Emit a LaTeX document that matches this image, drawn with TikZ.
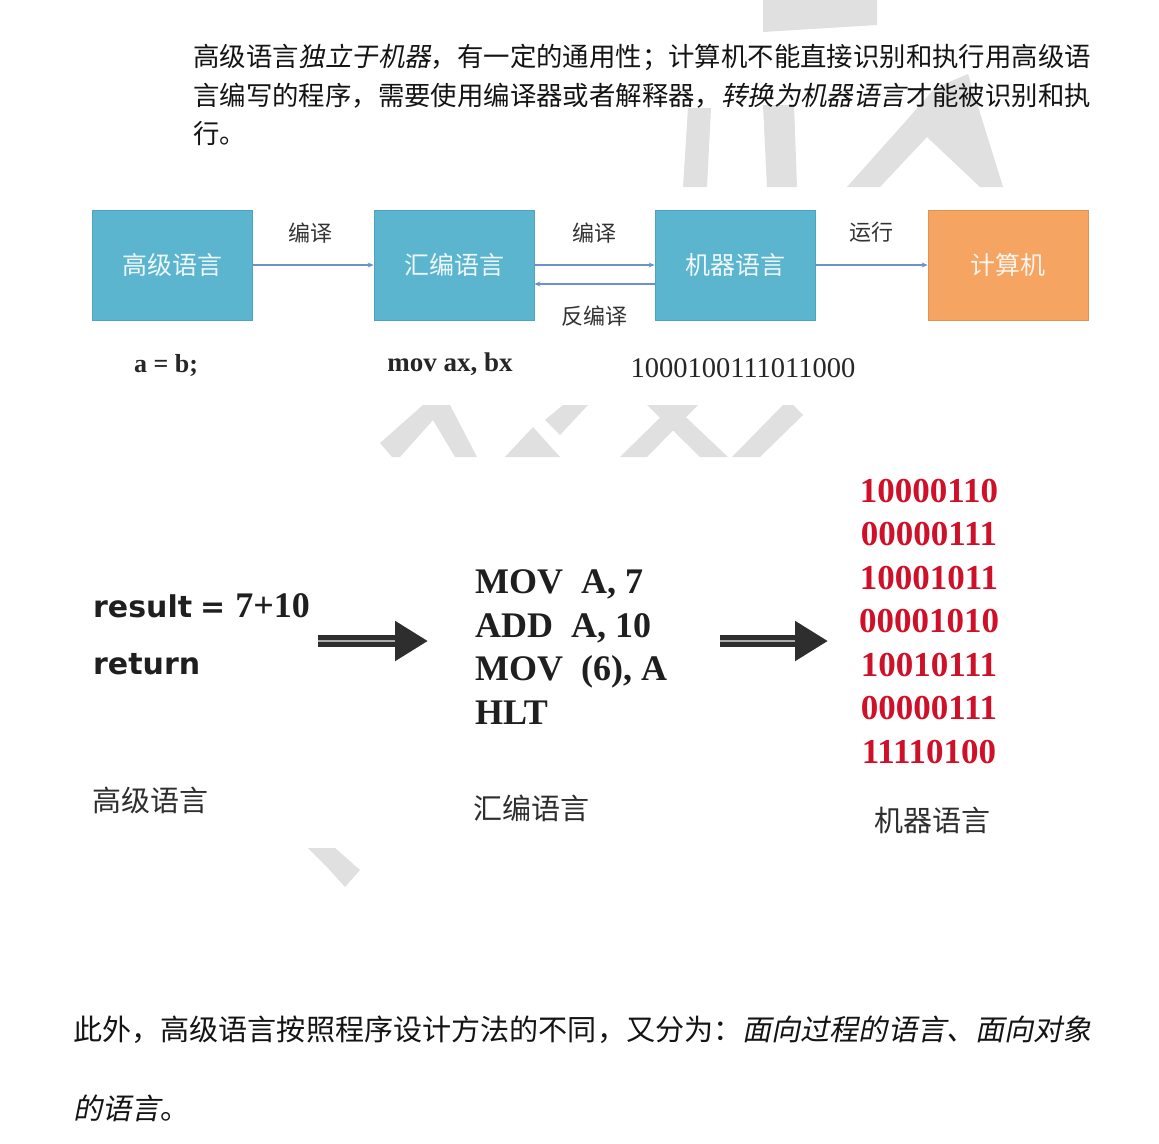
\documentclass[tikz,border=0pt]{standalone}
\usepackage{fontspec}
\usepackage{graphicx}
\usetikzlibrary{arrows.meta}
\setmainfont{Liberation Serif}
\newfontfamily\cjk{Noto Sans CJK SC}
\newfontfamily\cjkit{Noto Sans CJK SC}[FakeSlant=0.2]
\newfontfamily\dvsans{DejaVu Sans}
\definecolor{boxblue}{RGB}{91,181,206}
\definecolor{boxblueedge}{RGB}{78,163,190}
\definecolor{boxorange}{RGB}{245,164,98}
\definecolor{boxorangeedge}{RGB}{225,145,85}
\definecolor{flowblue}{RGB}{108,146,204}
\definecolor{wm}{RGB}{224,224,224}
\definecolor{binred}{RGB}{206,16,40}
\tikzset{
  langbox/.style={draw=boxblueedge, line width=0.8pt, fill=boxblue, minimum width=160pt, minimum height=110pt, inner sep=0pt, text=white!90!boxblue, font=\cjk\fontsize{25}{25}\selectfont},
  pcbox/.style={langbox, draw=boxorangeedge, fill=boxorange, text=white!88!boxorange},
  flow/.style={flowblue, line width=1.3pt, -{Stealth[length=6pt,width=5pt]}},
  flowlbl/.style={font=\cjk\fontsize{22}{22}\selectfont, text=black!80, inner sep=0pt},
  para/.style={anchor=west, inner sep=0pt, font=\cjk\fontsize{26.4}{30}\selectfont, text=black!92},
  parab/.style={para, font=\cjk\fontsize{29.1}{34}\selectfont},
  codelbl/.style={inner sep=0pt, text=black!85},
  asm/.style={anchor=base west, inner sep=0pt, font=\bfseries\fontsize{36}{36}\selectfont, text=black!88},
  bin/.style={anchor=base, inner sep=0pt, font=\bfseries\fontsize{35}{35}\selectfont, text=binred},
  biglbl/.style={inner sep=0pt, font=\cjk\fontsize{29}{29}\selectfont, text=black!82},
  fatarrow/.style={line width=12pt, black!82, -{Triangle[length=33pt,width=38pt]}},
  wmark/.style={fill=wm, draw=none}
}
\begin{document}
\begin{tikzpicture}[x=1pt,y=-1pt]
\useasboundingbox (0,0) rectangle (1159,1143);
\fill[white] (0,0) rectangle (1159,1143);
% watermark fragments
\fill[wmark] (763,0)--(877,0)--(877,25)--(763,32)--cycle;
\fill[wmark] (688,108)--(711,108)--(707,187)--(683,187)--cycle;
\fill[wmark] (763,105)--(794,105)--(797,187)--(767,187)--cycle;
\fill[wmark] (847,187)--(905,122)--(935,88)--(968,74)--(1003,187)--(980,187)--(927,137)--(880,187)--cycle;
\fill[wmark] (380,443)--(423,405)--(450,405)--(477,457)--(455,457)--(433,420)--(400,457)--(392,457)--cycle;
\fill[wmark] (545,420)--(563,405)--(588,405)--(560,435)--cycle;
\fill[wmark] (505,457)--(533,427)--(560,457)--cycle;
\fill[wmark] (647,405)--(673,405)--(728,457)--(700,457)--cycle;
\fill[wmark] (673,405)--(698,405)--(647,457)--(620,457)--cycle;
\fill[wmark] (732,457)--(783,405)--(793,405)--(803,415)--(760,457)--cycle;
\fill[wmark] (308,848)--(335,848)--(360,870)--(345,887)--(327,867)--cycle;

% top paragraph
\node[para] (p1) at (193,57) {高级语言{\cjkit 独立于机器}，有一定的通用性；计算机不能直接识别和执行用高级语};
\node[para] (p2) at (193,96) {言编写的程序，需要使用编译器或者解释器，{\cjkit 转换为机器语言}才能被识别和执};
\node[para] (p3) at (193,133) {行。};

% flow diagram
\node[langbox] (hl) at (172,265) {高级语言};
\node[langbox] (asmb) at (454,265) {汇编语言};
\node[langbox] (ml) at (735,265) {机器语言};
\node[pcbox] (pc) at (1008,265) {计算机};
\draw[flow] (hl.east) -- (asmb.west);
\draw[flow] (asmb.east) -- (ml.west);
\draw[flow] ([yshift=-19pt]ml.west) -- ([yshift=-19pt]asmb.east);
\draw[flow] (ml.east) -- (pc.west);
\node[flowlbl] (l1) at (310,233) {编译};
\node[flowlbl] (l2) at (594,233) {编译};
\node[flowlbl] (l3) at (594,316) {反编译};
\node[flowlbl] (l4) at (871,232) {运行};
\node[codelbl, font=\bfseries\fontsize{26}{26}\selectfont] (c1) at (166,365) {a = b;};
\node[codelbl, font=\bfseries\fontsize{27}{27}\selectfont] (c2) at (450,364) {mov ax, bx};
\node[codelbl, font=\fontsize{28.5}{28.5}\selectfont] (c3) at (743,368) {1000100111011000};

% lower figure
\node[anchor=base west, inner sep=0pt, text=black!88] (r1) at (93,617) {{\dvsans\bfseries\fontsize{30}{30}\selectfont result\hspace{8pt}=}\hspace{10pt}{\bfseries\fontsize{36}{36}\selectfont 7+10}};
\node[anchor=base west, inner sep=0pt, text=black!88, font=\dvsans\bfseries\fontsize{30}{30}\selectfont] (r2) at (93,674) {return};

\coordinate (a1s) at (318,641);
\coordinate (a1e) at (428,641);
\coordinate (a2s) at (720,641);
\coordinate (a2e) at (828,641);
\draw[fatarrow] (a1s) -- (a1e);
\draw[gray!65, line width=1.6pt] (a1s) -- ([xshift=-33pt]a1e);
\draw[fatarrow] (a2s) -- (a2e);
\draw[gray!65, line width=1.6pt] (a2s) -- ([xshift=-33pt]a2e);

\node[asm] (m1) at (475,593) {MOV\ \ A,\ 7};
\node[asm] (m2) at (475,637) {ADD\ \ A,\ 10};
\node[asm] (m3) at (475,680) {MOV\ \ (6),\ A};
\node[asm] (m4) at (475,724) {HLT};

\node[bin] (b1) at (929,502) {10000110};
\node[bin] (b2) at (929,545.5) {00000111};
\node[bin] (b3) at (929,589) {10001011};
\node[bin] (b4) at (929,632.5) {00001010};
\node[bin] (b5) at (929,676) {10010111};
\node[bin] (b6) at (929,719.5) {00000111};
\node[bin] (b7) at (929,763) {11110100};

\node[biglbl] (t1) at (150,800) {高级语言};
\node[biglbl] (t2) at (531,808) {汇编语言};
\node[biglbl] (t3) at (932,820) {机器语言};

% bottom paragraph
\node[parab] (q1) at (73,1030) {此外，高级语言按照程序设计方法的不同，又分为：{\cjkit 面向过程的语言、面向对象}};
\node[parab] (q2) at (73,1108) {{\cjkit 的语言}。};
\end{tikzpicture}
\end{document}
